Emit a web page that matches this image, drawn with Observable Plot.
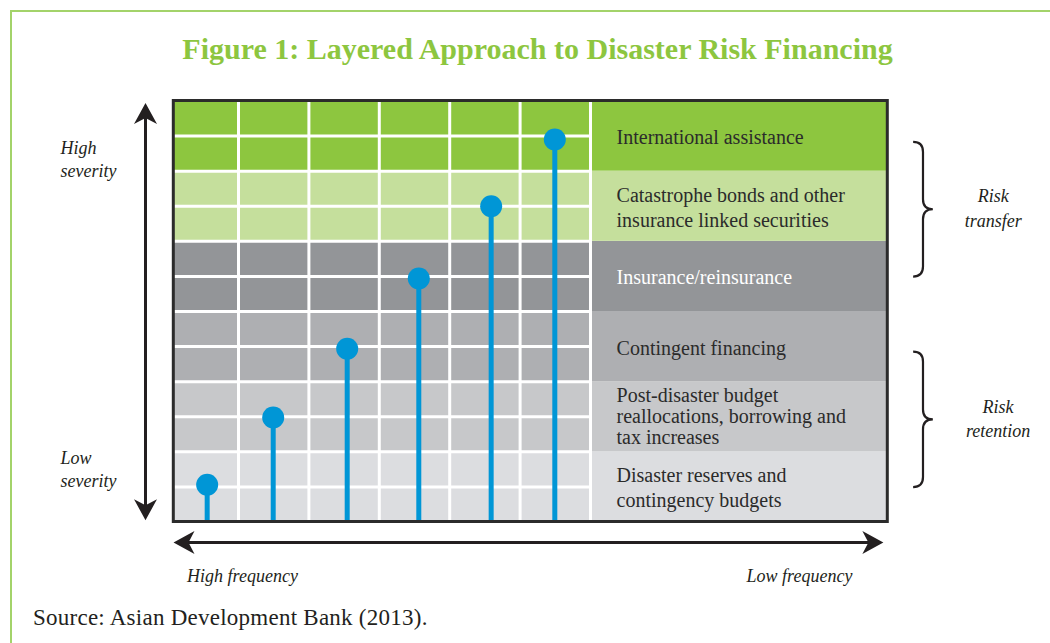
<!DOCTYPE html>
<html><head><meta charset="utf-8">
<script src="https://cdn.jsdelivr.net/npm/d3@7"></script>
<script src="https://cdn.jsdelivr.net/npm/@observablehq/plot@0.6"></script>
<style>
html,body{margin:0;padding:0;background:#fff;}
#page{position:relative;width:1050px;height:643px;overflow:hidden;font-family:"Liberation Serif",serif;}
#frame{position:absolute;left:10px;top:10px;right:-5px;bottom:-5px;border-left:2px solid #a3d36a;border-top:2px solid #a3d36a;}
#title{position:absolute;left:0;top:34px;width:1050px;box-sizing:border-box;padding-left:25px;text-align:center;font-size:30px;line-height:30px;font-weight:bold;color:#8dc63f;margin:0;}
#chart{position:absolute;left:0;top:80px;}
#source{position:absolute;left:33px;top:606px;font-size:23px;line-height:23px;letter-spacing:0.25px;color:#231f20;white-space:nowrap;}
</style></head>
<body><div id="page"><div id="frame"></div><h2 id="title"></h2><div id="chart"></div><div id="source"></div></div>
<script>
// ---------- data ----------
const titleText = "Figure 1: Layered Approach to Disaster Risk Financing";
const sourceText = "Source: Asian Development Bank (2013).";
// layers, bottom (low severity) to top (high severity)
const layerLabels = [
  "Disaster reserves and\ncontingency budgets",
  "Post-disaster budget\nreallocations, borrowing and\ntax increases",
  "Contingent financing",
  "Insurance/reinsurance",
  "Catastrophe bonds and other\ninsurance linked securities",
  "International assistance"
];
const layerColors = ["#dcdde0", "#c7c8ca", "#aeafb2", "#939598", "#c5df9c", "#8dc63f"];
const layerTextColors = ["#2b2b2b", "#2b2b2b", "#2b2b2b", "#ffffff", "#2b2b2b", "#2b2b2b"];
const columnEdges = [1, 2, 3, 4, 5, 6];
const rowLines = [0.5, 1, 1.5, 2, 2.5, 3, 3.5, 4, 4.5, 5, 5.5];
// lollipops: frequency position (column units) and severity reached (layer units)
const stemX = [0.555, 1.493, 2.544, 3.561, 4.589, 5.493];
const stemTop = [0.53, 1.49, 2.47, 3.47, 4.50, 5.45];
const severityLabels = ["High\nseverity", "Low\nseverity"];
const frequencyLabels = ["High frequency", "Low frequency"];
const riskLabels = ["Risk\ntransfer", "Risk\nretention"];
const riskSpans = [[3.49, 5.41], [0.49, 2.42]];

// ---------- layout ----------
const W = 1050, H = 520;
const X_DOMAIN = [0, 6], X_RANGE = [167.6, 590];
const Y_DOMAIN = [0, 6], Y_RANGE = [441.5, 20.5];
const BOX = {x1: 0.081, x2: 10.223, y1: 0, y2: 6};
const LABEL_X = 6.37;
const BLUE = "#0096d6", INK = "#231f20";
const FONT = "Liberation Serif";

document.getElementById("title").textContent = titleText;
document.getElementById("source").textContent = sourceText;

const layers = layerLabels.map((label, i) => ({label, level: i, color: layerColors[i], ink: layerTextColors[i]}));
const stems = stemX.map((x, i) => ({x, y: stemTop[i]}));

const severityPos = [{x: -1.528, y: 4.914}, {x: -1.528, y: 0.492}];
const severity = severityLabels.map((t, i) => ({t, ...severityPos[i]}));
const freqPos = [{x: 0.27, y: -0.848}, {x: 9.72, y: -0.848}];
const freq = frequencyLabels.map((t, i) => ({t, ...freqPos[i]}));
const riskX = [11.72, 11.79];
const risks = riskLabels.map((t, i) => ({t, x: riskX[i], lo: riskSpans[i][0], hi: riskSpans[i][1]}));

const arrows = [
  {x1: -0.321, y1: 0.025, x2: -0.321, y2: 5.97},
  {x1: 0.077, y1: -0.292, x2: 10.16, y2: -0.292}
];
const SHORT = 0.2;
const shafts = arrows.map(a => a.x1 === a.x2
  ? {x1: a.x1, x2: a.x2, y1: a.y1 + SHORT, y2: a.y2 - SHORT}
  : {x1: a.x1 + SHORT, x2: a.x2 - SHORT, y1: a.y1, y2: a.y2});
function head(pts) {
  return {draw(ctx) { ctx.moveTo(pts[0][0], pts[0][1]); for (let i = 1; i < pts.length; ++i) ctx.lineTo(pts[i][0], pts[i][1]); ctx.closePath(); }};
}
const L = 21, HW = 11.5, N = 15;
const heads = {
  up: head([[0,0],[HW,L],[0,N],[-HW,L]]),
  down: head([[0,0],[HW,-L],[0,-N],[-HW,-L]]),
  left: head([[0,0],[L,-HW],[N,0],[L,HW]]),
  right: head([[0,0],[-L,-HW],[-N,0],[-L,HW]])
};
const headPts = {up: [], down: [], left: [], right: []};
for (const a of arrows) {
  if (a.x1 === a.x2) { headPts.down.push({x: a.x1, y: a.y1}); headPts.up.push({x: a.x2, y: a.y2}); }
  else { headPts.left.push({x: a.x1, y: a.y1}); headPts.right.push({x: a.x2, y: a.y2}); }
}

const fx = d3.scaleLinear(X_DOMAIN, X_RANGE), fy = d3.scaleLinear(Y_DOMAIN, Y_RANGE);
function braces(index, scales) {
  const sx = scales && typeof scales.x === "function" ? scales.x : fx;
  const sy = scales && typeof scales.y === "function" ? scales.y : fy;
  const g = document.createElementNS("http://www.w3.org/2000/svg", "g");
  for (const r of risks) {
    const xe = sx(10.59), xm = sx(10.73), xt = sx(10.87);
    const yt = sy(r.hi), yb = sy(r.lo), ym = (yt + yb) / 2, k = 10;
    const d = `M${xe},${yt} Q${xm},${yt} ${xm},${yt + k} L${xm},${ym - k} Q${xm},${ym} ${xt},${ym} Q${xm},${ym} ${xm},${ym + k} L${xm},${yb - k} Q${xm},${yb} ${xe},${yb}`;
    const p = document.createElementNS("http://www.w3.org/2000/svg", "path");
    p.setAttribute("d", d); p.setAttribute("fill", "none"); p.setAttribute("stroke", INK); p.setAttribute("stroke-width", "2.2");
    g.appendChild(p);
  }
  return g;
}

const txt = {fontFamily: FONT};
const chart = Plot.plot({
  width: W, height: H,
  margin: 0, marginTop: 0, marginRight: 0, marginBottom: 0, marginLeft: 0,
  style: {background: "transparent", fontFamily: FONT},
  x: {type: "linear", domain: X_DOMAIN, range: X_RANGE, axis: null},
  y: {type: "linear", domain: Y_DOMAIN, range: Y_RANGE, axis: null},
  color: {type: "identity"},
  marks: [
    Plot.rect(layers, {x1: BOX.x1, x2: BOX.x2, y1: "level", y2: d => d.level + 1, fill: "color"}),
    Plot.ruleX(columnEdges, {x: d => d, y1: BOX.y1, y2: BOX.y2, stroke: "white", strokeWidth: 3}),
    Plot.ruleY(rowLines, {y: d => d, x1: BOX.x1, x2: 6, stroke: "white", strokeWidth: 3}),
    Plot.ruleX(stems, {x: "x", y1: 0, y2: "y", stroke: BLUE, strokeWidth: 5}),
    Plot.dot(stems, {x: "x", y: "y", r: 11, fill: BLUE, stroke: "none"}),
    Plot.rect([BOX], {x1: "x1", x2: "x2", y1: "y1", y2: "y2", fill: "none", stroke: "#2b2b2b", strokeWidth: 3}),
    Plot.text(layers.filter(d => d.level !== 1), {x: LABEL_X, y: d => d.level + 0.5, text: "label", fill: "ink", textAnchor: "start", lineAnchor: "middle", lineHeight: 1.25, fontSize: 20, ...txt}),
    Plot.text(layers.filter(d => d.level === 1), {x: LABEL_X, y: d => d.level + 0.5, text: "label", fill: "ink", textAnchor: "start", lineAnchor: "middle", lineHeight: 1.05, fontSize: 20, ...txt}),
    Plot.link(shafts, {x1: "x1", y1: "y1", x2: "x2", y2: "y2", stroke: INK, strokeWidth: 3}),
    ...Object.keys(heads).map(k => Plot.dot(headPts[k], {x: "x", y: "y", symbol: heads[k], r: 5, fill: INK, stroke: "none"})),
    Plot.text(severity, {x: "x", y: "y", text: "t", textAnchor: "start", lineAnchor: "bottom", lineHeight: 1.3, fontSize: 18, fontStyle: "italic", fill: INK, ...txt}),
    Plot.text(freq.slice(0, 1), {x: "x", y: "y", text: "t", textAnchor: "start", lineAnchor: "bottom", fontSize: 18, fontStyle: "italic", fill: INK, ...txt}),
    Plot.text(freq.slice(1), {x: "x", y: "y", text: "t", textAnchor: "end", lineAnchor: "bottom", fontSize: 18, fontStyle: "italic", fill: INK, ...txt}),
    Plot.text(risks, {x: "x", y: d => (d.lo + d.hi) / 2, dy: 17, text: "t", textAnchor: "middle", lineAnchor: "bottom", lineHeight: 1.35, fontSize: 18, fontStyle: "italic", fill: INK, ...txt}),
    braces
  ]
});
document.getElementById("chart").appendChild(chart);
</script></body></html>
